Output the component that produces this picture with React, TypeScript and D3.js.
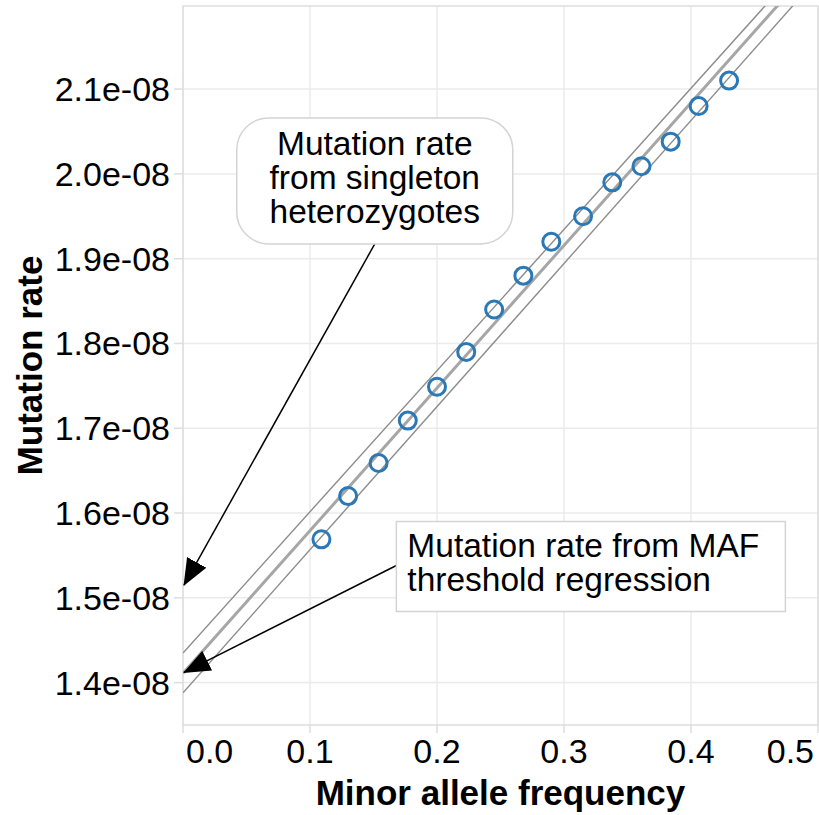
import { scaleLinear, format } from "d3";

const width = 819;
const height = 815;
const font = "'Liberation Sans', Arial, Helvetica, sans-serif";

// minor allele frequency bins and the mutation rate estimated at each
const maf = [
  0.109, 0.13, 0.154, 0.177, 0.2, 0.223, 0.245, 0.268, 0.29, 0.315, 0.338,
  0.361, 0.384, 0.406, 0.43,
];
const rate = [
  1.569e-8, 1.62e-8, 1.659e-8, 1.709e-8, 1.749e-8, 1.79e-8, 1.84e-8, 1.88e-8,
  1.92e-8, 1.95e-8, 1.99e-8, 2.009e-8, 2.038e-8, 2.08e-8, 2.11e-8,
];

// regression fit with its upper / lower bounds
const fitIntercept = [1.435e-8, 1.411e-8, 1.388e-8];
const fitSlope = [1.665e-8, 1.682e-8, 1.6875e-8];
const fitStyle = ["bound", "fit", "bound"];

const xTicks = [0, 0.1, 0.2, 0.3, 0.4, 0.5];
const yTicks = [1.4e-8, 1.5e-8, 1.6e-8, 1.7e-8, 1.8e-8, 1.9e-8, 2.0e-8, 2.1e-8];

const singletonLabel = ["Mutation rate", "from singleton", "heterozygotes"];
const singletonRate = 1.515e-8;
const mafLabel = ["Mutation rate from MAF", "threshold regression"];
const mafRate = 1.412e-8;

const margin = { top: 6, right: 1, bottom: 90, left: 183 };

const x = scaleLinear()
  .domain([0, 0.5])
  .range([margin.left, width - margin.right]);
const y = scaleLinear()
  .domain([1.35e-8, 2.198e-8])
  .range([height - margin.bottom, margin.top]);

const fmtY = (v: number) =>
  format(".1e")(v).replace(/e-(\d)$/, "e-0$1");
const fmtX = format(".1f");

const gridColor = "#ebebeb";

export default function App() {
  const [x0, x1] = x.range();
  const [y0, y1] = y.range();

  // singleton box
  const b1cx = x(0.151);
  const b1top = y(2.066e-8);
  const b1w = 276;
  const b1h = 126;

  // MAF box
  const b2left = x(0.168);
  const b2top = y(1.59e-8);
  const b2w = 389;
  const b2h = 90;

  const last = xTicks.length - 1;

  return (
    <svg
      width={width}
      height={height}
      style={{ position: "absolute", left: 0, top: 0, background: "#fff" }}
      fontFamily={font}
    >
      <defs>
        <clipPath id="panel">
          <rect x={x0} y={y1} width={x1 - x0} height={y0 - y1} />
        </clipPath>
        <marker
          id="head"
          viewBox="0 0 27 22"
          markerWidth={27}
          markerHeight={22}
          refX={26}
          refY={11}
          orient="auto"
          markerUnits="userSpaceOnUse"
        >
          <path d="M0,0 L27,11 L0,22 Z" fill="#000" />
        </marker>
      </defs>

      {/* grid */}
      {yTicks.map((t) => (
        <line key={"gy" + t} x1={x0} x2={x1} y1={y(t)} y2={y(t)} stroke={gridColor} strokeWidth={1.5} />
      ))}
      {xTicks.map((t) => (
        <line key={"gx" + t} x1={x(t)} x2={x(t)} y1={y0} y2={y1} stroke={gridColor} strokeWidth={1.5} />
      ))}
      <rect x={x0} y={y1} width={x1 - x0} height={y0 - y1} fill="none" stroke="#dedede" strokeWidth={1.5} />

      {/* ticks */}
      {yTicks.map((t) => (
        <g key={"ty" + t}>
          <line x1={x0 - 9} x2={x0} y1={y(t)} y2={y(t)} stroke="#dedede" strokeWidth={1.5} />
          <text x={x0 - 13} y={y(t)} dy="0.35em" textAnchor="end" fontSize={34} fill="#000">
            {fmtY(t)}
          </text>
        </g>
      ))}
      {xTicks.map((t, i) => (
        <g key={"tx" + t}>
          <line x1={x(t)} x2={x(t)} y1={y0} y2={y0 + 8} stroke="#dedede" strokeWidth={1.5} />
          <text
            x={i === last ? x(t) - 4 : i === 0 ? x(t) + 3 : x(t)}
            y={y0 + 38}
            textAnchor={i === last ? "end" : i === 0 ? "start" : "middle"}
            fontSize={34}
            fill="#000"
          >
            {fmtX(t)}
          </text>
        </g>
      ))}

      {/* axis titles */}
      <text x={(x0 + x1) / 2} y={805} textAnchor="middle" fontSize={35} fontWeight="bold">
        Minor allele frequency
      </text>
      <text
        transform={`translate(42,${(y0 + y1) / 2}) rotate(-90)`}
        textAnchor="middle"
        fontSize={35}
        fontWeight="bold"
      >
        Mutation rate
      </text>

      {/* regression lines */}
      <g clipPath="url(#panel)">
        {fitIntercept.map((a, i) => (
          <line
            key={"fit" + i}
            x1={x(0)}
            y1={y(a)}
            x2={x(0.5)}
            y2={y(a + fitSlope[i] * 0.5)}
            stroke={fitStyle[i] === "fit" ? "#a6a6a6" : "#8c8c8c"}
            strokeWidth={fitStyle[i] === "fit" ? 3 : 1.4}
          />
        ))}
      </g>

      {/* points */}
      {maf.map((m, i) => (
        <circle key={"p" + i} cx={x(m)} cy={y(rate[i])} r={8.5} fill="none" stroke="#2a78b6" strokeWidth={3} />
      ))}

      {/* annotation: singleton heterozygotes */}
      <line
        x1={b1cx}
        y1={b1top + b1h}
        x2={x(0) + 1}
        y2={y(singletonRate)}
        stroke="#000"
        strokeWidth={1.5}
        markerEnd="url(#head)"
      />
      <rect
        x={b1cx - b1w / 2}
        y={b1top}
        width={b1w}
        height={b1h}
        rx={32}
        ry={32}
        fill="#fff"
        stroke="#d4d4d4"
        strokeWidth={1.5}
      />
      {singletonLabel.map((s, i) => (
        <text key={"s" + i} x={b1cx} y={b1top + 37 + i * 34} textAnchor="middle" fontSize={33.5}>
          {s}
        </text>
      ))}

      {/* annotation: MAF threshold regression */}
      <line
        x1={b2left}
        y1={b2top + 44}
        x2={x(0) + 1}
        y2={y(mafRate)}
        stroke="#000"
        strokeWidth={1.5}
        markerEnd="url(#head)"
      />
      <rect x={b2left} y={b2top} width={b2w} height={b2h} fill="#fff" stroke="#d4d4d4" strokeWidth={1.5} />
      {mafLabel.map((s, i) => (
        <text key={"m" + i} x={b2left + 11} y={b2top + 35 + i * 34} fontSize={33.5}>
          {s}
        </text>
      ))}
    </svg>
  );
}
